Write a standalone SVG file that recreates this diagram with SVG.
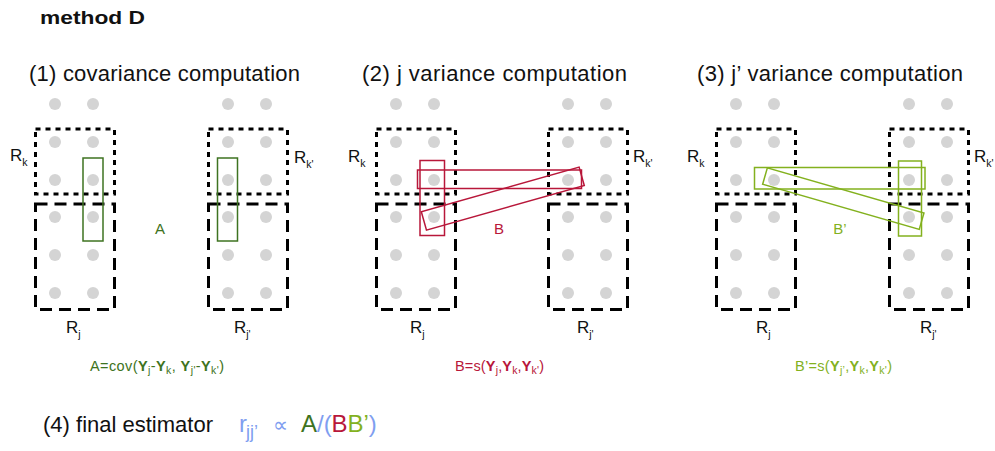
<svg xmlns="http://www.w3.org/2000/svg" width="995" height="451" viewBox="0 0 995 451">
<style>
text{font-family:"Liberation Sans",Arial,sans-serif;fill:#111}
.title{font-size:22px}
.dot{fill:#d4d4d4}
.rk{fill:none;stroke:#000;stroke-width:3;stroke-dasharray:5 5}
.rj{fill:none;stroke:#000;stroke-width:3;stroke-dasharray:12 7}
.lab{font-size:17px}
.sub{font-size:10.5px}
.ga{fill:none;stroke:#3e7321;stroke-width:1.5}
.rb{fill:none;stroke:#b8173a;stroke-width:1.5}
.lg{fill:none;stroke:#83b11e;stroke-width:1.5}
.f{font-size:14.5px}
.b{font-weight:bold}
.bl{fill:#7f9ef0}
</style>
<defs>
<g id="grid">
<circle class="dot" cx="0" cy="104" r="6"/><circle class="dot" cx="38" cy="104" r="6"/>
<circle class="dot" cx="0" cy="142" r="6"/><circle class="dot" cx="38" cy="142" r="6"/>
<circle class="dot" cx="0" cy="180" r="6"/><circle class="dot" cx="38" cy="180" r="6"/>
<circle class="dot" cx="0" cy="217" r="6"/><circle class="dot" cx="38" cy="217" r="6"/>
<circle class="dot" cx="0" cy="255" r="6"/><circle class="dot" cx="38" cy="255" r="6"/>
<circle class="dot" cx="0" cy="293" r="6"/><circle class="dot" cx="38" cy="293" r="6"/>
<rect class="rk" x="-19.5" y="129" width="79" height="65"/>
<rect class="rj" x="-19.5" y="204" width="79" height="105.5"/>
</g>
</defs>
<text x="40" y="24" font-size="19" font-weight="bold" textLength="105" lengthAdjust="spacingAndGlyphs">method D</text>
<g id="panel1">
<text class="title" x="29" y="81" textLength="271">(1) covariance computation</text>
<use href="#grid" x="55"/>
<use href="#grid" x="228"/>
<text class="lab" x="10" y="161">R<tspan class="sub" dy="5">k</tspan></text>
<text class="lab" x="294" y="163">R<tspan class="sub" dy="5">k'</tspan></text>
<text class="lab" x="66" y="333">R<tspan class="sub" dy="5">j</tspan></text>
<text class="lab" x="234" y="333">R<tspan class="sub" dy="5">j'</tspan></text>
<rect class="ga" x="83" y="158" width="20" height="83"/>
<rect class="ga" x="217.5" y="158" width="20" height="83"/>
<text x="160" y="234" font-size="15" text-anchor="middle" style="fill:#3e7321">A</text>
<text class="f" x="90" y="371" textLength="134" style="fill:#3e7321">A=cov(<tspan class="b">Y</tspan><tspan class="sub" dy="3">j</tspan><tspan dy="-3">-</tspan><tspan class="b">Y</tspan><tspan class="sub" dy="3">k</tspan><tspan dy="-3">, </tspan><tspan class="b">Y</tspan><tspan class="sub" dy="3">j'</tspan><tspan dy="-3">-</tspan><tspan class="b">Y</tspan><tspan class="sub" dy="3">k'</tspan><tspan dy="-3">)</tspan></text>
</g>
<g id="panel2">
<text class="title" x="362" y="81" textLength="265">(2) j variance computation</text>
<use href="#grid" x="396"/>
<use href="#grid" x="568"/>
<text class="lab" x="348" y="162">R<tspan class="sub" dy="5">k</tspan></text>
<text class="lab" x="633" y="162">R<tspan class="sub" dy="5">k'</tspan></text>
<text class="lab" x="410" y="333">R<tspan class="sub" dy="5">j</tspan></text>
<text class="lab" x="577" y="333">R<tspan class="sub" dy="5">j'</tspan></text>
<rect class="rb" x="420" y="160.5" width="24.5" height="75"/>
<rect class="rb" x="417.5" y="170" width="164" height="18.5"/>
<rect class="rb" x="-82" y="-9.5" width="164" height="19" transform="translate(502.8 198.6) rotate(-15.8)"/>
<text x="499" y="234" font-size="15" text-anchor="middle" style="fill:#b8173a">B</text>
<text class="f" x="455" y="371" textLength="89" style="fill:#b8173a">B=s(<tspan class="b">Y</tspan><tspan class="sub" dy="3">j</tspan><tspan dy="-3">,</tspan><tspan class="b">Y</tspan><tspan class="sub" dy="3">k</tspan><tspan dy="-3">,</tspan><tspan class="b">Y</tspan><tspan class="sub" dy="3">k'</tspan><tspan dy="-3">)</tspan></text>
</g>
<g id="panel3">
<text class="title" x="697" y="81" textLength="266">(3) j’ variance computation</text>
<use href="#grid" x="736"/>
<use href="#grid" x="909"/>
<text class="lab" x="687" y="162">R<tspan class="sub" dy="5">k</tspan></text>
<text class="lab" x="974" y="162">R<tspan class="sub" dy="5">k'</tspan></text>
<text class="lab" x="756" y="333">R<tspan class="sub" dy="5">j</tspan></text>
<text class="lab" x="920" y="333">R<tspan class="sub" dy="5">j'</tspan></text>
<rect class="lg" x="898.5" y="161" width="23" height="75"/>
<rect class="lg" x="754.5" y="167.5" width="170.5" height="21.5"/>
<rect class="lg" x="-81.5" y="-8.5" width="163" height="17" transform="translate(843.3 198.6) rotate(16.1)"/>
<text x="840" y="234" font-size="15" text-anchor="middle" style="fill:#83b11e">B’</text>
<text class="f" x="795" y="371" textLength="97" style="fill:#83b11e">B’=s(<tspan class="b">Y</tspan><tspan class="sub" dy="3">j’</tspan><tspan dy="-3">,</tspan><tspan class="b">Y</tspan><tspan class="sub" dy="3">k</tspan><tspan dy="-3">,</tspan><tspan class="b">Y</tspan><tspan class="sub" dy="3">k'</tspan><tspan dy="-3">)</tspan></text>
</g>
<g id="final">
<text class="title" x="43" y="432" textLength="170">(4) final estimator</text>
<text y="432" font-size="24"><tspan class="bl" x="239">r</tspan><tspan class="bl" x="246" dy="6" font-size="18">jj’</tspan><tspan class="bl" x="273" dy="-6" font-size="21">∝</tspan><tspan x="301" style="fill:#3e7321">A</tspan><tspan class="bl">/(</tspan><tspan x="331.5" style="fill:#b8173a">B</tspan><tspan style="fill:#83b11e">B’</tspan><tspan class="bl">)</tspan></text>
</g>
</svg>
